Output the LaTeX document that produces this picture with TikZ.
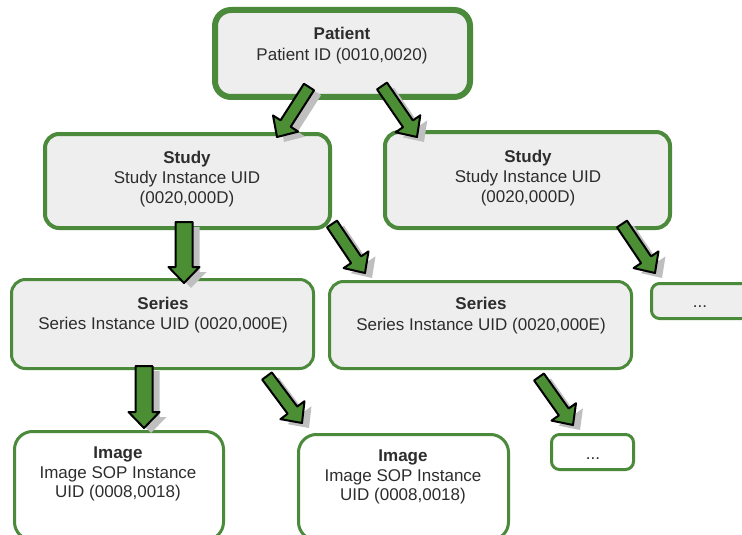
\documentclass[tikz,border=0pt]{standalone}
\usepackage{fontspec}
\setmainfont{Liberation Sans}
\usetikzlibrary{calc}
\definecolor{boxgreen}{RGB}{74,138,58}
\definecolor{arrgreen}{RGB}{76,142,52}
\definecolor{boxgray}{RGB}{238,238,238}
\definecolor{txtgray}{RGB}{45,45,45}
% block arrow: [style]{from}{to}{half shaft width}{half head width}
\newcommand\blockarrow[5][]{%
  \coordinate (hb) at ($(#3)!16pt!(#2)$);
  \path[#1] ($(#2)!#4!90:(#3)$) -- ($(hb)!#4!90:(#3)$) -- ($(hb)!#5!90:(#3)$) -- (#3)
    -- ($(hb)!#5!-90:(#3)$) -- ($(hb)!#4!-90:(#3)$) -- ($(#2)!#4!-90:(#3)$) -- cycle;
}
\begin{document}
\begin{tikzpicture}[x=1pt,y=-1pt,
  box/.style={draw=boxgreen, fill=boxgray, rounded corners=14pt, line width=3pt, inner sep=0pt, outer sep=0pt},
  whitebox/.style={box, fill=white},
  ln/.style={font=\fontsize{17}{20}\selectfont, text=txtgray, anchor=base, inner sep=0pt},
  ttl/.style={font=\fontsize{17}{20}\selectfont\bfseries, text=txtgray, anchor=base, inner sep=0pt},
  arrowbody/.style={fill=arrgreen, draw=black, line width=2pt, line join=round},
  arrowshadow/.style={fill=black!25},
]
\useasboundingbox (0,0) rectangle (742,535);
\clip (0,0) rectangle (742,535);

% boxes
\node[box, line width=6pt, rounded corners=16pt, minimum width=255, minimum height=87] (patient) at (342.5,53.5) {};
\node[ttl] (patientT) at (342,40) {Patient};
\node[ln] (patientL) at (342,61) {Patient ID (0010,0020)};

\node[box, line width=4pt, minimum width=285, minimum height=94] (study1) at (187.5,181) {};
\node[ttl] (study1T) at (187,163) {Study};
\node[ln] (study1L1) at (187,183) {Study Instance UID};
\node[ln] (study1L2) at (187,203) {(0020,000D)};

\node[box, line width=4pt, minimum width=285, minimum height=96] (study2) at (527.5,180) {};
\node[ttl] (study2T) at (528,162) {Study};
\node[ln] (study2L1) at (528,182) {Study Instance UID};
\node[ln] (study2L2) at (528,202) {(0020,000D)};

\node[box, minimum width=302, minimum height=89] (series1) at (162.5,324) {};
\node[ttl] (series1T) at (163,309) {Series};
\node[ln] (series1L) at (163,329) {Series Instance UID (0020,000E)};

\node[box, minimum width=302, minimum height=87] (series2) at (480.5,325) {};
\node[ttl] (series2T) at (481,309) {Series};
\node[ln] (series2L) at (481,330) {Series Instance UID (0020,000E)};

\node[box, rounded corners=8pt, minimum width=98, minimum height=35] (dots1) at (700.5,301) {};
\node[ln] (dots1T) at (700,307) {...};

\node[whitebox, rounded corners=18pt, minimum width=209, minimum height=108.5] (image1) at (119,485.75) {};
\node[ttl] (image1T) at (118,458) {Image};
\node[ln] (image1L1) at (118,478) {Image SOP Instance};
\node[ln] (image1L2) at (118,497) {UID (0008,0018)};

\node[whitebox, rounded corners=18pt, minimum width=210, minimum height=105.5] (image2) at (403.5,487.25) {};
\node[ttl] (image2T) at (403,461) {Image};
\node[ln] (image2L1) at (403,481) {Image SOP Instance};
\node[ln] (image2L2) at (403,500) {UID (0008,0018)};

\node[whitebox, rounded corners=8pt, minimum width=82, minimum height=35] (dots2) at (592.5,452) {};
\node[ln] (dots2T) at (593,459) {...};

% arrow end points
\coordinate (a1s) at (309,87);  \coordinate (a1e) at (277,137);
\coordinate (a2s) at (382,86);  \coordinate (a2e) at (417,137);
\coordinate (a3s) at (184,222); \coordinate (a3e) at (184,283);
\coordinate (a4s) at (332,224); \coordinate (a4e) at (365,273);
\coordinate (a5s) at (622,224); \coordinate (a5e) at (655,273);
\coordinate (a6s) at (144,366); \coordinate (a6e) at (144,428);
\coordinate (a7s) at (267,376); \coordinate (a7e) at (302,423);
\coordinate (a8s) at (539,377); \coordinate (a8e) at (573,425);

% shadows
\begin{scope}[transform canvas={shift={(7pt,-5pt)}}]
\blockarrow[arrowshadow]{a1s}{a1e}{6pt}{15pt}
\blockarrow[arrowshadow]{a2s}{a2e}{6pt}{15pt}
\blockarrow[arrowshadow]{a3s}{a3e}{8.5pt}{15.5pt}
\blockarrow[arrowshadow]{a4s}{a4e}{6pt}{15pt}
\blockarrow[arrowshadow]{a5s}{a5e}{6pt}{15pt}
\blockarrow[arrowshadow]{a6s}{a6e}{8.5pt}{15.5pt}
\blockarrow[arrowshadow]{a7s}{a7e}{6pt}{15pt}
\blockarrow[arrowshadow]{a8s}{a8e}{6pt}{15pt}
\end{scope}

% arrows
\blockarrow[arrowbody]{a1s}{a1e}{6pt}{15pt}
\blockarrow[arrowbody]{a2s}{a2e}{6pt}{15pt}
\blockarrow[arrowbody]{a3s}{a3e}{8.5pt}{15.5pt}
\blockarrow[arrowbody]{a4s}{a4e}{6pt}{15pt}
\blockarrow[arrowbody]{a5s}{a5e}{6pt}{15pt}
\blockarrow[arrowbody]{a6s}{a6e}{8.5pt}{15.5pt}
\blockarrow[arrowbody]{a7s}{a7e}{6pt}{15pt}
\blockarrow[arrowbody]{a8s}{a8e}{6pt}{15pt}
\end{tikzpicture}
\end{document}
